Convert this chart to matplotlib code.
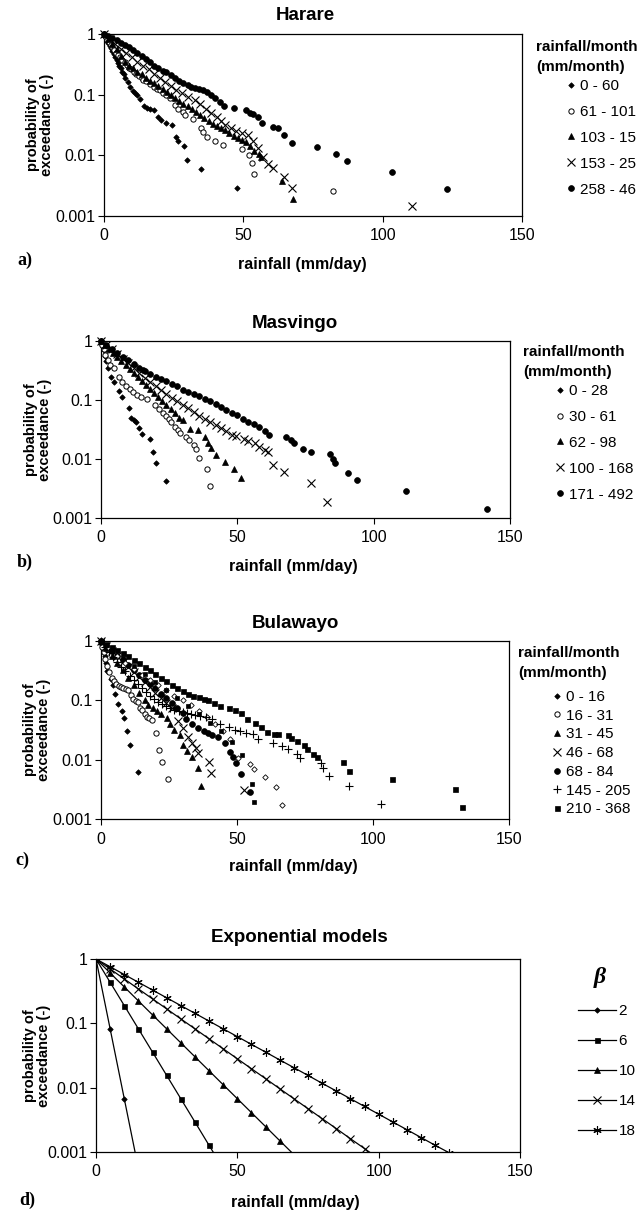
import matplotlib
matplotlib.use('Agg')
import matplotlib.pyplot as plt
from matplotlib.ticker import NullLocator

plt.rcParams['font.family'] = ['Liberation Sans', 'DejaVu Sans']

W, H = 644, 1215

# ---------------- a) Harare ----------------
hre_labels = ['0 - 60', '61 - 101', '103 - 15', '153 - 25', '258 - 46']
hre_x1 = [0, 0.5, 1, 1.5, 2, 2.5, 3, 3.5, 4, 4.5, 5, 5.5, 6, 6.5, 7, 7.6, 8.5, 9.5, 10.5, 11.2,
          12.0, 13.0, 14.2, 15.3, 16.5, 17.9, 19.4, 20.5, 22.3, 24.5, 26.0, 26.7, 28.6, 29.7, 34.8, 47.6]
hre_p1 = [1, 0.89, 0.80, 0.72, 0.64, 0.58, 0.52, 0.46, 0.41, 0.37, 0.33, 0.30, 0.27, 0.24, 0.22, 0.19, 0.16, 0.135, 0.115, 0.106,
          0.099, 0.085, 0.064, 0.060, 0.058, 0.056, 0.043, 0.038, 0.034, 0.032, 0.020, 0.017, 0.0142, 0.0085, 0.0059, 0.0029]
hre_x2 = [0, 0.6, 1.2, 1.8, 2.4, 3, 3.7, 4.4, 5.1, 5.8, 6.6, 7.4, 8.2, 9.0, 9.8, 10.7, 11.6, 12.5, 13.5, 14.1,
          15.0, 16.4, 17.9, 19.0, 20.1, 21.2, 22.3, 23.7, 25.5, 26.7, 28.2, 29.1, 32.1, 34.7, 35.6, 36.8, 39.8, 42.8,
          49.4, 52.1, 53.0, 53.8, 82.0]
hre_p2 = [1, 0.9, 0.81, 0.73, 0.66, 0.6, 0.54, 0.49, 0.45, 0.41, 0.37, 0.34, 0.31, 0.28, 0.26, 0.24, 0.22, 0.2, 0.185, 0.174,
          0.165, 0.15, 0.135, 0.125, 0.118, 0.108, 0.1, 0.087, 0.067, 0.058, 0.052, 0.046, 0.039, 0.028, 0.024, 0.02, 0.0174, 0.0148,
          0.0125, 0.0101, 0.0075, 0.005, 0.0026]
hre_x3 = [0, 1.5, 3, 4.5, 6, 7.5, 9, 10.5, 12, 13.5, 15, 16.5, 18, 19.5, 21, 22.5, 24, 25.5, 27, 28.5,
          30, 31.5, 33, 34.5, 36, 37.5, 39, 40.5, 42, 43.5, 45, 46.5, 48, 49.5, 51, 52.5, 54, 55.5, 56.5, 63.7, 67.9]
hre_p3 = [1, 0.83, 0.68, 0.56, 0.43, 0.34, 0.3, 0.27, 0.24, 0.215, 0.19, 0.17, 0.155, 0.14, 0.125, 0.11, 0.1, 0.089, 0.08, 0.071,
          0.064, 0.057, 0.051, 0.046, 0.041, 0.037, 0.033, 0.030, 0.028, 0.026, 0.023, 0.021, 0.019, 0.018, 0.0165, 0.014, 0.012,
          0.0105, 0.0095, 0.0038, 0.0019]
hre_x4 = [0, 2, 4, 6, 8, 10, 12, 14, 16, 18, 20, 22, 24, 26, 28, 30, 32.6, 34.5, 36.5, 38.5,
          40.5, 42, 43.6, 45.5, 47.5, 49.5, 51.7, 53.5, 55.4, 57.0, 58.7, 60.5, 64.6, 67.5, 110.4]
hre_p4 = [1, 0.82, 0.68, 0.57, 0.48, 0.41, 0.35, 0.30, 0.26, 0.22, 0.19, 0.16, 0.14, 0.12, 0.105, 0.092, 0.082, 0.07, 0.058, 0.05,
          0.043, 0.037, 0.032, 0.028, 0.025, 0.023, 0.0216, 0.017, 0.013, 0.0095, 0.0073, 0.0061, 0.0044, 0.0029, 0.00144]
hre_x5 = [0, 1.5, 3, 4.5, 6, 7.5, 9, 10.5, 12, 13.5, 15, 16.5, 18, 19.5, 21, 22.3, 24, 25.5, 27, 28.5,
          30, 31.1, 32.5, 34, 35.5, 37, 38.5, 39.9, 41.5, 42.9, 46.5, 51.0, 52.4, 53.5, 55.4, 56.8, 60.5, 62.3, 64.6, 67.5,
          76.4, 83.3, 87.2, 103.4, 123.2]
hre_p5 = [1, 0.92, 0.85, 0.79, 0.72, 0.66, 0.6, 0.54, 0.48, 0.43, 0.38, 0.34, 0.3, 0.27, 0.25, 0.24, 0.21, 0.19, 0.17, 0.155,
          0.145, 0.136, 0.13, 0.125, 0.12, 0.11, 0.1, 0.087, 0.075, 0.065, 0.060, 0.056, 0.0506, 0.048, 0.0434, 0.0337, 0.0297,
          0.0279, 0.0216, 0.0161, 0.0135, 0.0107, 0.0081, 0.0053, 0.0028]

# ---------------- b) Masvingo ----------------
msv_labels = ['0 - 28', '30 - 61', '62 - 98', '100 - 168', '171 - 492']
msv_x1 = [0, 0.5, 1, 1.5, 2, 2.6, 3.6, 4.8, 6.6, 7.8, 10.2, 11.1, 12.0, 12.9, 13.8, 15.0, 17.9, 19.1, 20.3, 24.0]
msv_p1 = [1, 0.85, 0.7, 0.55, 0.45, 0.345, 0.243, 0.205, 0.144, 0.114, 0.0726, 0.049, 0.046, 0.042, 0.033, 0.0267,
          0.0217, 0.0129, 0.0085, 0.0042]
msv_x2 = [0, 0.5, 1.0, 1.5, 2.4, 3.3, 4.8, 6.6, 7.8, 9.3, 10.5, 11.6, 13.1, 14.6, 16.8, 19.8, 21.3, 22.8, 23.9, 24.8,
          25.8, 27.0, 28.1, 28.8, 31.1, 32.1, 34.1, 34.8, 35.9, 39.0, 39.8]
msv_p2 = [1, 0.85, 0.72, 0.58, 0.47, 0.39, 0.345, 0.249, 0.205, 0.173, 0.154, 0.139, 0.122, 0.114, 0.104, 0.083, 0.0698,
          0.0612, 0.0545, 0.0473, 0.0432, 0.0355, 0.0312, 0.0281, 0.024, 0.0211, 0.0174, 0.0147, 0.0103, 0.0067, 0.0035]
msv_x3 = [0, 1.5, 3, 4.5, 6, 7.5, 9, 10.5, 12, 13.5, 15, 16.5, 18, 19.5, 21, 22.5, 24, 25.5, 27.2, 28.5,
          30, 32.7, 35.4, 38.2, 39.4, 40.3, 42.1, 45.5, 48.6, 51.3]
msv_p3 = [1, 0.856, 0.733, 0.627, 0.537, 0.46, 0.394, 0.337, 0.288, 0.247, 0.211, 0.181, 0.155, 0.132, 0.113, 0.097, 0.083,
          0.071, 0.06, 0.05, 0.045, 0.032, 0.031, 0.024, 0.0185, 0.0155, 0.0117, 0.0089, 0.0069, 0.0047]
msv_x4 = [0, 2, 4, 6, 8, 10, 12, 14, 16, 18, 20, 22, 24, 26, 28, 30, 32, 34, 36, 38,
          40, 42, 44, 46, 48, 49.5, 52.4, 54, 56.6, 58, 60, 61.1, 63.1, 67.1, 77.2, 82.9]
msv_p4 = [1, 0.85, 0.72, 0.6, 0.5, 0.42, 0.35, 0.29, 0.24, 0.2, 0.17, 0.145, 0.125, 0.11, 0.095, 0.083, 0.072, 0.062, 0.053,
          0.047, 0.042, 0.037, 0.033, 0.03, 0.026, 0.025, 0.0217, 0.02, 0.019, 0.016, 0.014, 0.0129, 0.0078, 0.006, 0.0039, 0.0019]
msv_x5 = [0, 2, 4, 6, 8, 10, 12, 14, 15.3, 16, 18, 20, 22, 24, 26, 28, 30, 32, 34, 36, 38, 40, 42, 44, 46, 48, 50,
          52, 54, 56, 58, 60, 61.5, 67.9, 69.7, 70.9, 73.9, 77.2, 84.1, 85.1, 85.9, 90.7, 93.8, 111.9, 141.7]
msv_p5 = [1, 0.86, 0.74, 0.63, 0.54, 0.47, 0.4, 0.35, 0.32, 0.31, 0.28, 0.25, 0.23, 0.21, 0.19, 0.17, 0.15, 0.135, 0.125,
          0.115, 0.106, 0.095, 0.085, 0.075, 0.067, 0.06, 0.055, 0.048, 0.043, 0.039, 0.035, 0.03, 0.026, 0.024, 0.0211,
          0.019, 0.0147, 0.0129, 0.0121, 0.0101, 0.0085, 0.0059, 0.0044, 0.0029, 0.00144]

# ---------------- c) Bulawayo ----------------
byo_labels = ['0 - 16', '16 - 31', '31 - 45', '46 - 68', '68 - 84', '145 - 205', '210 - 368']
byo_x1 = [0, 0.5, 1, 1.5, 2, 2.3, 3.5, 4.5, 5.1, 6.4, 7.6, 8.4, 9.4, 10.6, 13.7]
byo_p1 = [1, 0.85, 0.7, 0.55, 0.42, 0.31, 0.23, 0.18, 0.126, 0.087, 0.066, 0.05, 0.03, 0.0177, 0.0061]
byo_x2 = [0, 0.5, 1.0, 1.5, 2.2, 3.0, 3.9, 4.7, 5.5, 6.5, 7.4, 8.2, 9.1, 10.0, 10.9, 11.9, 12.8, 13.7, 14.3, 14.9,
          16.1, 16.8, 17.7, 18.6, 20.2, 21.5, 22.5, 24.5]
byo_p2 = [1, 0.8, 0.65, 0.5, 0.38, 0.3, 0.24, 0.21, 0.19, 0.175, 0.165, 0.16, 0.155, 0.149, 0.123, 0.104, 0.098, 0.094,
          0.075, 0.069, 0.058, 0.053, 0.05, 0.047, 0.028, 0.0145, 0.0092, 0.0047]
byo_x3 = [0, 2, 4, 6, 8, 10, 12, 14, 16, 17.4, 19, 20.5, 22, 24.1, 25.5, 27, 29.0, 30.2, 31.5, 33.3, 35.7, 36.7]
byo_p3 = [1, 0.75, 0.56, 0.42, 0.32, 0.24, 0.18, 0.135, 0.1, 0.083, 0.075, 0.066, 0.058, 0.05, 0.04, 0.032, 0.026,
          0.0176, 0.014, 0.0112, 0.0071, 0.0036]
byo_x4 = [0, 2, 4, 6, 8, 10, 12, 14, 16, 18, 20, 22, 24, 26, 28.4, 30, 32, 33.3, 34.8, 35.7, 39.7, 40.6, 52.4]
byo_p4 = [1, 0.82, 0.67, 0.55, 0.45, 0.37, 0.3, 0.25, 0.2, 0.165, 0.135, 0.11, 0.09, 0.075, 0.044, 0.034, 0.024,
          0.019, 0.0155, 0.0128, 0.0092, 0.006, 0.0031]
byo_x5 = [0, 2, 4, 6, 8, 10, 12, 14, 16, 18, 20, 22, 24, 26, 28, 30, 31.4, 33.5, 35.7, 37.9,
          39.4, 40.9, 43.0, 45.5, 47.3, 48.5, 49.8, 51.6, 54.9]
byo_p5 = [1, 0.83, 0.68, 0.56, 0.47, 0.39, 0.33, 0.27, 0.22, 0.19, 0.16, 0.13, 0.11, 0.09, 0.075, 0.062, 0.048, 0.04,
          0.034, 0.031, 0.028, 0.026, 0.024, 0.019, 0.0136, 0.011, 0.0087, 0.0057, 0.0029]
# two classes that have no entry in the legend
byo_x_od = [0, 3, 6, 9, 12, 15, 18, 21, 24, 27, 30, 33, 36, 39, 42, 45, 47.5, 50.4, 54.6, 56.2, 60.4, 64.2, 66.4]
byo_p_od = [1, 0.75, 0.56, 0.43, 0.34, 0.27, 0.22, 0.18, 0.15, 0.12, 0.1, 0.082, 0.066, 0.052, 0.04, 0.03, 0.022,
            0.0105, 0.0085, 0.0069, 0.0051, 0.0034, 0.0017]
byo_x_sq = [0, 4, 8, 12, 16, 20, 24, 28, 32, 36, 40, 44, 48, 52, 55.5, 56.1]
byo_p_sq = [1, 0.72, 0.52, 0.38, 0.28, 0.2, 0.15, 0.11, 0.08, 0.058, 0.042, 0.03, 0.02, 0.012, 0.0039, 0.0019]
byo_x6 = [0, 1.5, 3, 4.5, 6, 7.5, 9, 10.5, 12, 13.5, 15, 16.5, 18, 19.5, 21, 22.5, 24, 25.5, 27, 28.5, 30, 31.5, 33,
          34.5, 36.4, 38.5, 40.9, 43.9, 46.9, 49.2, 51, 53.4, 55.7, 57.9, 63.2, 66.5, 68.9, 72.2, 73.3, 80.9, 81.8,
          83.9, 91.0, 102.9]
byo_p6 = [1, 0.8, 0.65, 0.53, 0.44, 0.37, 0.31, 0.26, 0.22, 0.19, 0.16, 0.14, 0.12, 0.105, 0.095, 0.088, 0.08, 0.075,
          0.07, 0.066, 0.063, 0.06, 0.058, 0.056, 0.054, 0.052, 0.048, 0.04, 0.036, 0.032, 0.03, 0.0283, 0.0269, 0.0227,
          0.0192, 0.0169, 0.0149, 0.0127, 0.0105, 0.0089, 0.0071, 0.0053, 0.0036, 0.0018]
byo_x7 = [0, 2, 4, 6, 8, 10, 12, 14, 16, 18, 20, 22, 24, 26, 28, 30, 32, 34, 36, 37.9, 39.4, 41.5, 43.9, 46.9,
          49.2, 51.5, 53.7, 56.7, 59.0, 61.2, 63.5, 65.0, 68.8, 69.8, 72.2, 74.8, 75.8, 77.8, 79.3, 89.1, 91.0,
          107.1, 130.1, 132.7]
byo_p7 = [1, 0.88, 0.78, 0.7, 0.62, 0.55, 0.48, 0.42, 0.37, 0.32, 0.28, 0.24, 0.21, 0.18, 0.16, 0.145, 0.13, 0.12,
          0.112, 0.107, 0.1, 0.09, 0.08, 0.073, 0.068, 0.06, 0.049, 0.042, 0.0357, 0.029, 0.0269, 0.0269, 0.0259,
          0.0228, 0.0205, 0.0176, 0.0149, 0.0127, 0.0109, 0.0092, 0.0064, 0.0048, 0.0032, 0.00157]

# ---------------- d) Exponential models ----------------
exp_labels = ['2', '6', '10', '14', '18']
exp_x1 = [0, 5, 10, 15]
exp_p1 = [1, 0.0821, 0.00674, 0.000553]
exp_x2 = [0, 5, 10, 15, 20, 25, 30, 35, 40, 45]
exp_p2 = [1, 0.4346, 0.1889, 0.0821, 0.0357, 0.0155, 0.00674, 0.00293, 0.00127, 0.000553]
exp_x3 = [0, 5, 10, 15, 20, 25, 30, 35, 40, 45, 50, 55, 60, 65, 70]
exp_p3 = [1, 0.6065, 0.3679, 0.2231, 0.1353, 0.0821, 0.0498, 0.0302, 0.0183, 0.0111, 0.00674, 0.00409, 0.00248,
          0.0015, 0.000912]
exp_x4 = [0, 5, 10, 15, 20, 25, 30, 35, 40, 45, 50, 55, 60, 65, 70, 75, 80, 85, 90, 95, 100]
exp_p4 = [1, 0.6997, 0.4895, 0.3425, 0.2397, 0.1677, 0.1173, 0.0821, 0.0574, 0.0402, 0.0281, 0.0197, 0.0138,
          0.00963, 0.00674, 0.00471, 0.0033, 0.00231, 0.00161, 0.00113, 0.00079]
exp_x5 = [0, 5, 10, 15, 20, 25, 30, 35, 40, 45, 50, 55, 60, 65, 70, 75, 80, 85, 90, 95, 100, 105, 110, 115, 120, 125]
exp_p5 = [1, 0.7575, 0.5738, 0.4346, 0.3292, 0.2494, 0.1889, 0.1431, 0.1084, 0.0821, 0.0622, 0.0471, 0.0357, 0.027,
          0.0205, 0.0155, 0.0117, 0.00889, 0.00674, 0.0051, 0.00387, 0.00293, 0.00222, 0.00168, 0.00127, 0.00097]

# marker styles (Excel-like)
diam = dict(marker='D', ms=2.8, mfc='black', mec='black', mew=0.5)
ocirc = dict(marker='o', ms=3.8, mfc='white', mec='black', mew=0.7)
tri = dict(marker='^', ms=3.8, mfc='black', mec='black', mew=0.5)
cross = dict(marker='x', ms=5.5, mec='black', mew=0.8)
dot = dict(marker='o', ms=4.2, mfc='black', mec='black', mew=0.5)
plus = dict(marker='+', ms=6, mec='black', mew=0.8)
sq = dict(marker='s', ms=3.6, mfc='black', mec='black', mew=0.5)
odiam = dict(marker='D', ms=2.8, mfc='white', mec='black', mew=0.6)
smsq = dict(marker='s', ms=2.4, mfc='black', mec='black', mew=0.5)

fig = plt.figure(figsize=(W / 100, H / 100), dpi=100)


def px(x, y):
    return x / W, 1 - y / H


def make_panel(box, title, title_x, title_y, xlab_x, xlab_y, ylab_x, letter, letter_xy):
    l, t, r, b = box
    ax = fig.add_axes([l / W, 1 - b / H, (r - l) / W, (b - t) / H])
    ax.set_yscale('log')
    ax.set_xlim(0, 150)
    ax.set_ylim(0.001, 1)
    ax.set_xticks([0, 50, 100, 150])
    ax.set_yticks([0.001, 0.01, 0.1, 1])
    ax.set_yticklabels(['0.001', '0.01', '0.1', '1'])
    ax.yaxis.set_minor_locator(NullLocator())
    ax.tick_params(direction='out', length=4, width=0.8, labelsize=11.5, colors='black')
    ax.tick_params(axis='x', pad=5)
    ax.tick_params(axis='y', pad=2)
    for s in ax.spines.values():
        s.set_linewidth(0.9)
    fig.text(*px(title_x, title_y), title, ha='center', va='center', fontsize=13.5, fontweight='bold')
    fig.text(*px(xlab_x, xlab_y), 'rainfall (mm/day)', ha='center', va='center', fontsize=11.5,
             fontweight='bold')
    fig.text(*px(ylab_x, (t + b) / 2), 'probability of\nexceedance (-)', ha='center', va='center',
             rotation=90, fontsize=10.5, fontweight='bold', linespacing=1.05)
    fig.text(*px(*letter_xy), letter, ha='center', va='center', fontsize=13, fontweight='bold',
             family='Liberation Serif')
    return ax


def class_legend(ax, x, y, spacing, title_x=None, title_y=None):
    if title_x is not None:
        fig.text(*px(title_x, title_y), 'rainfall/month', ha='left', va='center', fontsize=11,
                 fontweight='bold')
        fig.text(*px(title_x, title_y + 20), '(mm/month)', ha='left', va='center', fontsize=11,
                 fontweight='bold')
    ax.legend(loc='upper left', bbox_to_anchor=px(x, y), bbox_transform=fig.transFigure, frameon=False,
              fontsize=11, handlelength=0.5, handletextpad=0.35, labelspacing=spacing, borderpad=0,
              borderaxespad=0)


def scatter(ax, xs, ps, style, label):
    ax.plot(xs, ps, ls='none', clip_on=False, zorder=3, label=label, **style)


# a) Harare
ax = make_panel((104, 34, 522, 216), 'Harare', 305, 15, 302, 265, 40, 'a)', (25, 260))
for xs, ps, st, lab in zip([hre_x1, hre_x2, hre_x3, hre_x4, hre_x5], [hre_p1, hre_p2, hre_p3, hre_p4, hre_p5],
                           [diam, ocirc, tri, cross, dot], hre_labels):
    scatter(ax, xs, ps, st, lab)
class_legend(ax, 567, 79, 0.78, 536, 47)

# b) Masvingo
ax = make_panel((101, 341, 510, 518), 'Masvingo', 295, 323, 293, 567, 38, 'b)', (25, 562))
for xs, ps, st, lab in zip([msv_x1, msv_x2, msv_x3, msv_x4, msv_x5], [msv_p1, msv_p2, msv_p3, msv_p4, msv_p5],
                           [diam, ocirc, tri, cross, dot], msv_labels):
    scatter(ax, xs, ps, st, lab)
class_legend(ax, 556, 384, 0.78, 523, 352)

# c) Bulawayo
ax = make_panel((101, 641, 509, 819), 'Bulawayo', 295, 623, 293, 867, 37, 'c)', (22, 860))
scatter(ax, byo_x1, byo_p1, diam, byo_labels[0])
scatter(ax, byo_x2, byo_p2, ocirc, byo_labels[1])
scatter(ax, byo_x3, byo_p3, tri, byo_labels[2])
scatter(ax, byo_x4, byo_p4, cross, byo_labels[3])
scatter(ax, byo_x5, byo_p5, dot, byo_labels[4])
scatter(ax, byo_x_od, byo_p_od, odiam, '_nolegend_')
scatter(ax, byo_x_sq, byo_p_sq, smsq, '_nolegend_')
scatter(ax, byo_x6, byo_p6, plus, byo_labels[5])
scatter(ax, byo_x7, byo_p7, sq, byo_labels[6])
class_legend(ax, 553, 690, 0.31, 518, 653)

# d) Exponential models
ax = make_panel((96, 959, 520, 1152), 'Exponential models', 299, 938, 295, 1202, 37, 'd)', (27, 1200))
star = dict(marker=(6, 2, 0), ms=6, mec='black', mew=0.8)
for xs, ps, st, lab in zip([exp_x1, exp_x2, exp_x3, exp_x4, exp_x5], [exp_p1, exp_p2, exp_p3, exp_p4, exp_p5],
                           [diam, sq, tri, cross, star], exp_labels):
    ax.plot(xs, ps, color='black', lw=0.9, label=lab, **st)
ax.legend(loc='upper left', bbox_to_anchor=px(578, 1004), bbox_transform=fig.transFigure, frameon=False,
          fontsize=11, handlelength=2.5, handletextpad=0.15, labelspacing=1.05, borderpad=0, borderaxespad=0)
fig.text(*px(600, 978), '\u03b2', ha='center', va='center', fontsize=17, fontweight='bold',
         fontstyle='italic', family='Liberation Serif')

fig.savefig('out.png', dpi=100)
